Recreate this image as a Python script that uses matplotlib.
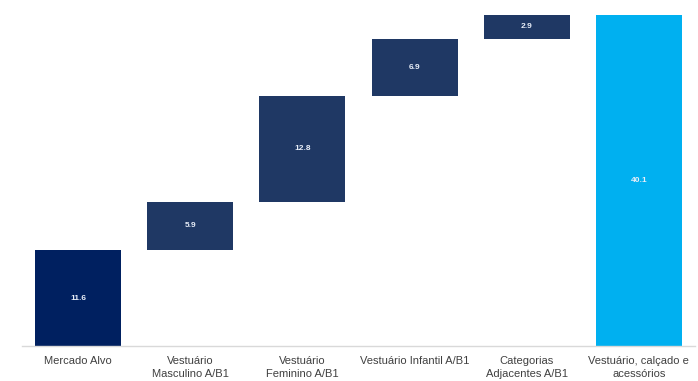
import matplotlib.pyplot as plt
import numpy as np

plt.rcParams['font.family'] = ['Liberation Sans', 'DejaVu Sans']

categories = ["Mercado Alvo", "Vestuário\nMasculino A/B1", "Vestuário\nFeminino A/B1",
              "Vestuário Infantil A/B1", "Categorias\nAdjacentes A/B1",
              "Vestuário, calçado e\nacessórios"]
steps = [11.6, 5.9, 12.8, 6.9, 2.9]
total = 40.1

values = steps + [total]
bottoms = list(np.concatenate([[0], np.cumsum(steps)[:-1]])) + [0]
colors = ["#002060"] + ["#1F3864"] * 4 + ["#00B0F0"]

fig = plt.figure(figsize=(6.98, 3.81), dpi=100)
ax = fig.add_axes([22 / 698, 35 / 381, 673 / 698, 331 / 381])

x = np.arange(len(categories))
ax.bar(x, values, bottom=bottoms, width=0.766, color=colors, edgecolor="none")

for xi, v, b in zip(x, values, bottoms):
    ax.text(xi, b + v / 2, f"{v:.1f}", ha="center", va="center",
            color="#E8EEF8", fontsize=6, fontweight="bold")

ax.set_xlim(-0.5, len(categories) - 0.5)
ax.set_ylim(0, total)
ax.set_xticks(x)
ax.set_xticklabels(categories, fontsize=8, color="#404040", linespacing=1.4)
ax.tick_params(axis="x", length=0, pad=7)
ax.set_yticks([])
for side in ["top", "right", "left"]:
    ax.spines[side].set_visible(False)
ax.spines["bottom"].set_color("#D9D9D9")
ax.spines["bottom"].set_linewidth(1)

fig.savefig("out.png", dpi=100)
